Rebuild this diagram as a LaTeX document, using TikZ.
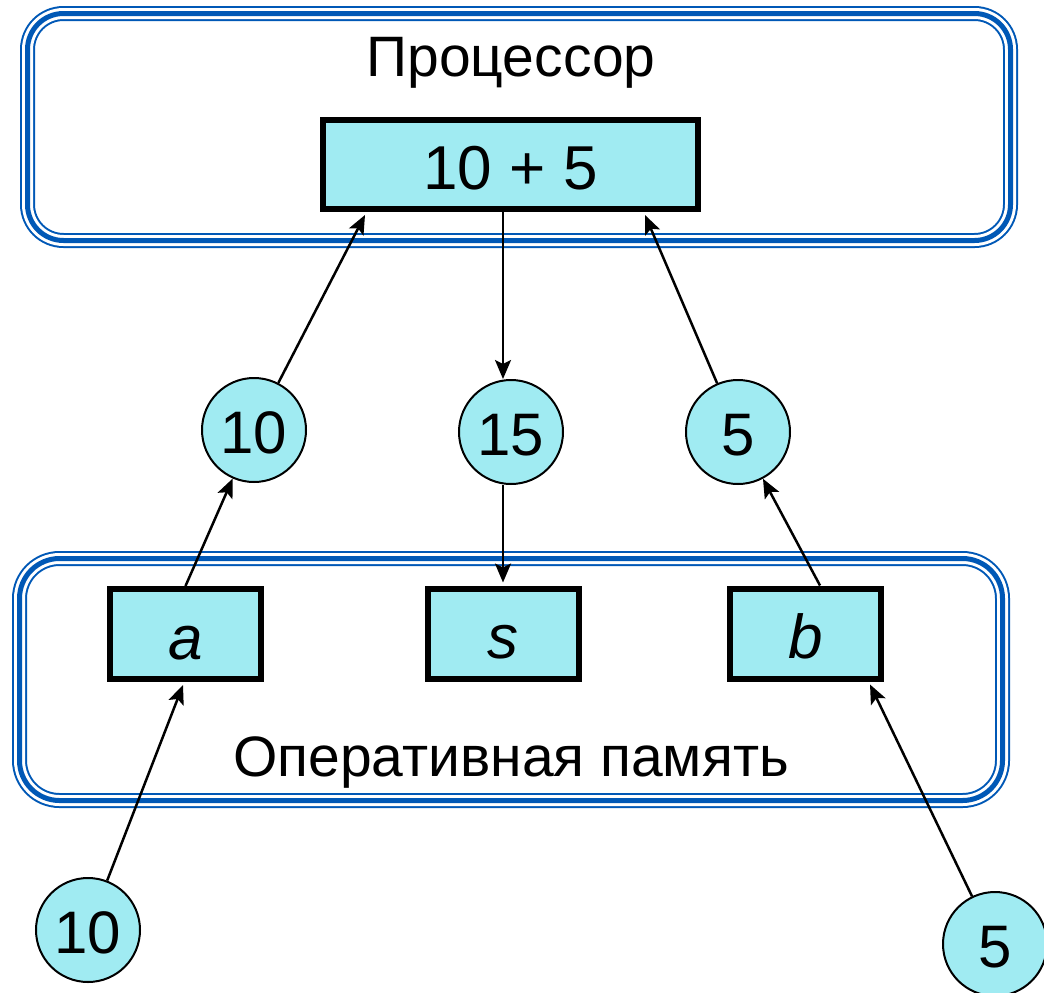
\documentclass[tikz,border=0pt]{standalone}
\usepackage{fontspec}
\setmainfont{Liberation Sans}
\usetikzlibrary{arrows.meta}
\definecolor{cellcyan}{RGB}{160,235,242}
\definecolor{unitblue}{RGB}{0,88,182}
\tikzset{
  cell/.style={draw, line width=6pt, fill=cellcyan, minimum width=151pt, minimum height=90pt,
    inner sep=0pt, text height=50pt, text depth=0pt, font=\fontsize{62}{70}\selectfont},
  value/.style={circle, draw, line width=2pt, fill=cellcyan, minimum size=104pt,
    inner sep=0pt, text height=46pt, text depth=0pt, font=\fontsize{60}{68}\selectfont},
  unit/.style={draw=unitblue, line width=15pt,
    postaction={draw=white, line width=11pt},
    postaction={draw=unitblue, line width=5pt}},
  caption/.style={anchor=base, font=\fontsize{57}{64}\selectfont},
  flow/.style={line width=2.5pt, -{Stealth[length=19pt,width=16pt,inset=4pt]}}
}
\begin{document}
\begin{tikzpicture}[x=1pt,y=-1pt]
\useasboundingbox (0,0) rectangle (1044,993);
% Draw the processor and the memory
\draw[unit, rounded corners=36pt] (27.5,13.5) rectangle (1010.5,240.5);
\draw[unit, rounded corners=40pt] (19.5,558.5) rectangle (1002.5,800.5);
\node[caption] (cpu) at (511,76) {Процессор};
\node[caption] (ram) at (511,776) {Оперативная память};
% The adder and the memory cells
\node[cell, minimum width=375pt, minimum height=89pt] (sum) at (510.5,164.5) {10 + 5};
\node[cell] (a) at (185.5,634) {\itshape a};
\node[cell] (s) at (503,633.5) {\itshape s};
\node[cell] (b) at (805.5,633.5) {\itshape b};
% The values on the way
\node[value] (x1) at (254,430) {10};
\node[value] (x2) at (511,432) {15};
\node[value] (x3) at (738,432) {5};
\node[value] (in1) at (88,930) {10};
\node[value] (in2) at (995,944) {5};
% Input into the memory
\draw[flow] (in1) -- ([xshift=-2.5pt,yshift=-3pt]a.south);
\draw[flow] (in2) -- ([xshift=64.5pt,yshift=-3pt]b.south);
% From the memory to the processor
\draw[flow] (a.north) -- (x1);
\draw[flow] ([xshift=14.5pt]b.north) -- (x3);
\draw[flow] (x1) -- ([xshift=-145.5pt,yshift=-3pt]sum.south);
\draw[flow] (x3) -- ([xshift=134.5pt,yshift=-3pt]sum.south);
% The result goes back
\draw[flow] (sum.south -| s.north) -- (x2.north -| s.north);
\draw[flow] (x2.south -| s.north) -- ([yshift=3pt]s.north);
\end{tikzpicture}
\end{document}
